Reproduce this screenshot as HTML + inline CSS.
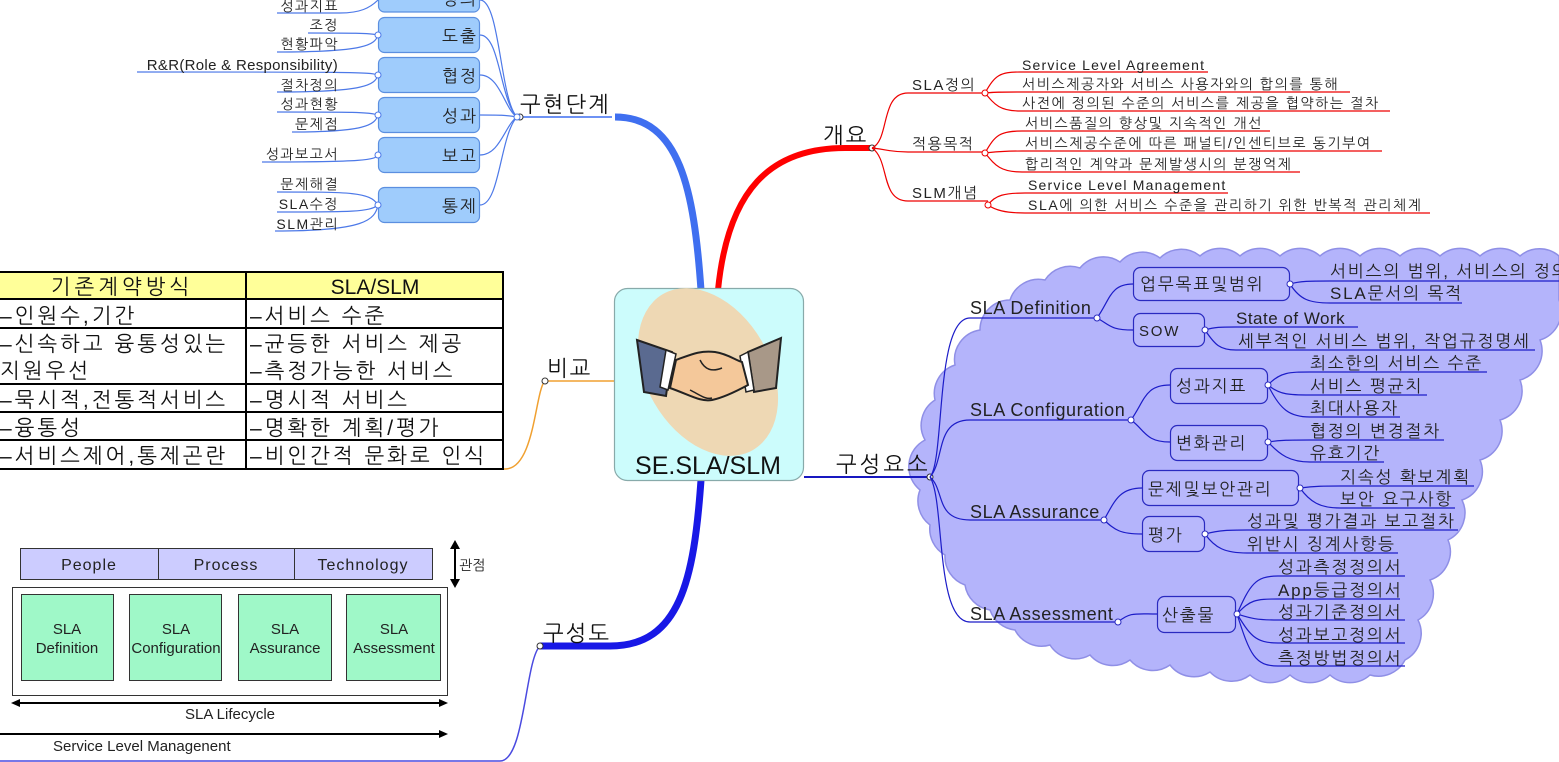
<!DOCTYPE html>
<html><head><meta charset="utf-8"><style>
html,body{margin:0;padding:0;background:#fff;width:1559px;height:762px;overflow:hidden}
svg{display:block}
text{font-family:"Liberation Sans","NanumGothic","Noto Sans CJK KR",sans-serif}
.k{font-family:"NanumGothic","Noto Sans CJK KR",sans-serif}
</style></head><body>
<svg width="1559" height="762" viewBox="0 0 1559 762" xmlns="http://www.w3.org/2000/svg">
<!-- cloud -->
<path fill="#b4b4fb" stroke="#8f8fe6" stroke-width="1.5" d="M925 440 A30 30 0 0 1 935 400 A30 30 0 0 1 955 365 A30 30 0 0 1 980 330 A30 30 0 0 1 1010 300 A30 30 0 0 1 1045 280 A30 30 0 0 1 1080 268 A30 30 0 0 1 1120 262 A30 30 0 0 1 1160 258 A30 30 0 0 1 1200 256 A30 30 0 0 1 1240 256 A30 30 0 0 1 1280 256 A30 30 0 0 1 1320 256 A30 30 0 0 1 1360 256 A30 30 0 0 1 1400 256 A30 30 0 0 1 1440 256 A30 30 0 0 1 1480 256 A30 30 0 0 1 1520 256 A30 30 0 0 1 1559 256 L1559 300 A30 30 0 0 1 1540 340 A30 30 0 0 1 1520 380 A30 30 0 0 1 1500 420 A30 30 0 0 1 1480 460 A30 30 0 0 1 1462 500 A30 30 0 0 1 1448 540 A30 30 0 0 1 1430 580 A30 30 0 0 1 1418 620 A30 30 0 0 1 1405 660 A30 30 0 0 1 1370 675 A30 30 0 0 1 1330 675 A30 30 0 0 1 1290 675 A30 30 0 0 1 1250 675 A30 30 0 0 1 1210 672 A30 30 0 0 1 1170 665 A30 30 0 0 1 1130 660 A30 30 0 0 1 1090 655 A30 30 0 0 1 1050 645 A30 30 0 0 1 1015 630 A30 30 0 0 1 990 610 A30 30 0 0 1 965 585 A30 30 0 0 1 945 555 A30 30 0 0 1 930 525 A30 30 0 0 1 920 490 A30 30 0 0 1 925 440 Z"/>

<!-- main branches -->
<path d="M701 290 C694 190 680 117 615 117" stroke="#3f6ff0" stroke-width="7" fill="none"/>
<path d="M520 117 H612" stroke="#3f6ff0" stroke-width="1.5"/>
<path d="M718 290 C728 190 770 148 845 148 H872" stroke="#f00" stroke-width="6" fill="none"/>
<path d="M823 148 H872" stroke="#f00" stroke-width="1.5"/>
<path d="M701 480 C694 580 680 646 610 646 H540" stroke="#1818e6" stroke-width="7" fill="none"/>
<path d="M540 646 C525 660 525 761 500 761 H0" stroke="#4a4ae0" stroke-width="1.5" fill="none"/>
<path d="M614 381 H545 C535 390 535 469 505 469 H0" stroke="#f0a030" stroke-width="1.5" fill="none"/>
<path d="M804 477 H930" stroke="#1818c0" stroke-width="2"/>

<!-- center node -->
<rect x="614.5" y="288.5" width="189" height="192" rx="13" fill="#ccfcfc" stroke="#8aa" stroke-width="1.2"/>
<ellipse cx="708" cy="372" rx="62" ry="90" transform="rotate(-30 708 372)" fill="#eed8b4"/>
<polygon points="637,340 672,352 666,396 644,392" fill="#5a6a90" stroke="#222" stroke-width="2"/>
<polygon points="666,350 676,354 668,390 660,387" fill="#fff" stroke="#222" stroke-width="1.5"/>
<polygon points="781,338 748,352 754,392 776,388" fill="#a89888" stroke="#222" stroke-width="2"/>
<polygon points="748,352 740,356 746,392 754,390" fill="#fff" stroke="#222" stroke-width="1.5"/>
<path d="M676 360 C690 355 700 350 715 352 C728 354 735 360 742 362 L748 385 C735 392 722 398 712 400 C700 402 690 395 670 388 Z" fill="#f4c89a" stroke="#222" stroke-width="2"/>
<path d="M690 390 C700 395 706 400 712 398 M700 360 C705 370 712 372 722 368" stroke="#222" stroke-width="1.5" fill="none"/>
<text x="708" y="474" font-size="25" text-anchor="middle" fill="#111">SE.SLA/SLM</text>

<!-- main labels -->
<g class="k" font-size="22" fill="#111" letter-spacing="2">
<text x="520" y="112" class="k">구현단계</text>
<text x="823" y="143" class="k">개요</text>
<text x="547" y="376" class="k">비교</text>
<text x="543" y="641" class="k">구성도</text>
<text x="836" y="472" class="k" letter-spacing="3">구성요소</text>
</g>
<g fill="#fff" stroke="#333" stroke-width="1">
<circle cx="520" cy="117" r="3"/><circle cx="872" cy="148" r="3"/><circle cx="545" cy="381" r="3"/><circle cx="540" cy="646" r="3"/><circle cx="930" cy="477" r="3"/>
</g>

<!-- 구현단계 sub -->
<g stroke="#4d79e8" stroke-width="1.2" fill="none">
<path d="M517 117 C500 100 500 0 480 0"/>
<path d="M517 117 C500 100 500 35 480 35"/>
<path d="M517 117 C505 110 500 75 480 75"/>
<path d="M517 117 C505 115 500 115 480 115"/>
<path d="M517 117 C505 125 500 155 480 155"/>
<path d="M517 117 C500 135 500 205 480 205"/>
<path d="M378 0 C370 8 360 13 340 13 H277"/>
<path d="M378 35 C370 33 350 33 308 33"/><path d="M378 35 C375 45 365 52 277 52"/>
<path d="M378 75 C370 72 350 72 137 72"/><path d="M378 75 C375 85 365 92 277 92"/>
<path d="M378 115 C370 112 350 112 277 112"/><path d="M378 115 C375 125 365 132 292 132"/>
<path d="M378 155 C375 160 365 162 262 162"/>
<path d="M378 205 C370 192 350 192 277 192"/><path d="M378 205 C370 212 350 212 277 212"/><path d="M378 205 C375 220 365 231 275 231"/>
</g>
<g fill="#9fccfc" stroke="#5b8fe0" stroke-width="1.2">
<rect x="378.5" y="-20" width="101" height="32" rx="6"/>
<rect x="378.5" y="17.5" width="101" height="35" rx="6"/>
<rect x="378.5" y="57.5" width="101" height="35" rx="6"/>
<rect x="378.5" y="97.5" width="101" height="35" rx="6"/>
<rect x="378.5" y="137.5" width="101" height="35" rx="6"/>
<rect x="378.5" y="187.5" width="101" height="35" rx="6"/>
</g>
<g class="k" font-size="17" fill="#222" text-anchor="end" letter-spacing="2">
<text x="478" y="5">정의</text>
<text x="478" y="42">도출</text>
<text x="478" y="82">협정</text>
<text x="478" y="122">성과</text>
<text x="478" y="162">보고</text>
<text x="478" y="212">통제</text>
</g>
<g fill="#fff" stroke="#4d79e8"><circle cx="378" cy="35" r="3"/><circle cx="378" cy="75" r="3"/><circle cx="378" cy="115" r="3"/><circle cx="378" cy="155" r="3"/><circle cx="378" cy="205" r="3"/><circle cx="517" cy="117" r="3"/></g>
<g class="k" font-size="14" fill="#222" text-anchor="end" letter-spacing="1.5">
<text x="339" y="11">성과지표</text>
<text x="339" y="30">조정</text>
<text x="339" y="49">현황파악</text>
<text x="338" y="70" font-family="Liberation Sans" font-size="15" letter-spacing="0.3">R&amp;R(Role &amp; Responsibility)</text>
<text x="339" y="90">절차정의</text>
<text x="339" y="109">성과현황</text>
<text x="339" y="129">문제점</text>
<text x="339" y="159">성과보고서</text>
<text x="339" y="189">문제해결</text>
<text x="339" y="209">SLA수정</text>
<text x="339" y="229">SLM관리</text>
</g>

<!-- 개요 sub -->
<g stroke="#e00" stroke-width="1.2" fill="none">
<path d="M872 148 C890 140 880 93 908 93 H985"/>
<path d="M872 148 C890 150 890 152 908 152 H985"/>
<path d="M872 148 C890 160 880 201 908 201 H988"/>
<path d="M985 93 C995 75 1000 72 1020 72 H1208"/>
<path d="M985 93 C995 92 1000 92 1020 92 H1350"/>
<path d="M985 93 C995 105 1000 111 1020 111 H1390"/>
<path d="M985 153 C995 135 1000 131 1022 131 H1270"/>
<path d="M985 153 C995 152 1000 151 1022 151 H1382"/>
<path d="M985 153 C995 165 1000 172 1022 172 H1300"/>
<path d="M988 205 C995 195 1005 193 1025 193 H1228"/>
<path d="M988 205 C995 210 1005 213 1025 213 H1430"/>
</g>
<g fill="#fff" stroke="#e00"><circle cx="985" cy="93" r="3"/><circle cx="985" cy="153" r="3"/><circle cx="988" cy="205" r="3"/></g>
<g class="k" font-size="15" fill="#222" letter-spacing="1.5">
<text x="912" y="90">SLA정의</text>
<text x="912" y="149">적용목적</text>
<text x="912" y="198">SLM개념</text>
</g>
<g class="k" font-size="14" fill="#222" letter-spacing="1.6">
<text x="1022" y="70" letter-spacing="1.2">Service Level Agreement</text>
<text x="1022" y="89">서비스제공자와 서비스 사용자와의 합의를 통해</text>
<text x="1022" y="108">사전에 정의된 수준의 서비스를 제공을 협약하는 절차</text>
<text x="1025" y="128">서비스품질의 향상및 지속적인 개선</text>
<text x="1025" y="148">서비스제공수준에 따른 패널티/인센티브로 동기부여</text>
<text x="1025" y="169">합리적인 계약과 문제발생시의 분쟁억제</text>
<text x="1028" y="190" letter-spacing="1.2">Service Level Management</text>
<text x="1028" y="210">SLA에 의한 서비스 수준을 관리하기 위한 반복적 관리체계</text>
</g>

<!-- 구성요소 sub -->
<g stroke="#1c1cc8" stroke-width="1.2" fill="none">
<path d="M930 477 C945 460 935 318 970 318 H1097"/>
<path d="M930 477 C945 460 935 420 970 420 H1131"/>
<path d="M930 477 C945 490 935 520 970 520 H1104"/>
<path d="M930 477 C945 500 935 622 970 622 H1118"/>
<path d="M1097 318 C1110 300 1110 284 1133 284"/><path d="M1097 318 C1110 325 1110 330 1133 330"/>
<path d="M1131 420 C1145 400 1145 385 1170 385"/><path d="M1131 420 C1145 430 1145 442 1170 442"/>
<path d="M1104 520 C1115 500 1120 488 1142 488"/><path d="M1104 520 C1115 530 1120 534 1142 534"/>
<path d="M1118 622 C1130 612 1135 614 1157 614"/>
<path d="M1290 284 C1300 281 1310 281 1330 281 H1559"/><path d="M1290 284 C1300 300 1310 303 1330 303 H1462"/>
<path d="M1205 330 C1215 327 1220 327 1236 327 H1358"/><path d="M1205 330 C1215 345 1220 350 1236 350 H1535"/>
<path d="M1268 385 C1280 372 1290 372 1310 372 H1487"/><path d="M1268 385 C1280 395 1290 395 1310 395 H1427"/><path d="M1268 385 C1280 410 1290 417 1310 417 H1400"/>
<path d="M1268 442 C1280 440 1290 440 1310 440 H1444"/><path d="M1268 442 C1280 455 1290 462 1310 462 H1384"/>
<path d="M1300 488 C1315 486 1325 486 1340 486 H1474"/><path d="M1300 488 C1310 502 1320 508 1340 508 H1455"/>
<path d="M1205 534 C1220 530 1230 530 1247 530 H1458"/><path d="M1205 534 C1215 548 1225 553 1247 553 H1398"/>
<path d="M1237 614 C1250 585 1255 576 1278 576 H1405"/><path d="M1237 614 C1250 600 1255 599 1278 599 H1400"/><path d="M1237 614 C1250 618 1255 620 1278 620 H1405"/><path d="M1237 614 C1250 635 1255 643 1278 643 H1405"/><path d="M1237 614 C1250 655 1255 666 1278 666 H1405"/>
</g>
<g fill="#b8b8fc" stroke="#2a2ac0" stroke-width="1.2">
<rect x="1133.5" y="267.5" width="156" height="33" rx="7"/>
<rect x="1133.5" y="313.5" width="71" height="33" rx="7"/>
<rect x="1170.5" y="368.5" width="97" height="35" rx="7"/>
<rect x="1170.5" y="425.5" width="97" height="35" rx="7"/>
<rect x="1142.5" y="470.5" width="156" height="35" rx="7"/>
<rect x="1142.5" y="516.5" width="62" height="35" rx="7"/>
<rect x="1157.5" y="596.5" width="78" height="36" rx="7"/>
</g>
<g fill="#fff" stroke="#2a2ac0"><circle cx="1097" cy="318" r="3"/><circle cx="1131" cy="420" r="3"/><circle cx="1104" cy="520" r="3"/><circle cx="1118" cy="622" r="3"/><circle cx="1290" cy="284" r="3"/><circle cx="1205" cy="330" r="3"/><circle cx="1268" cy="385" r="3"/><circle cx="1268" cy="442" r="3"/><circle cx="1300" cy="488" r="3"/><circle cx="1205" cy="534" r="3"/><circle cx="1237" cy="614" r="3"/></g>
<g class="k" font-size="17" fill="#222" letter-spacing="1.8">
<text x="970" y="314" font-family="Liberation Sans" font-size="18" letter-spacing="0.6">SLA Definition</text>
<text x="970" y="416" font-family="Liberation Sans" font-size="18" letter-spacing="0.6">SLA Configuration</text>
<text x="970" y="518" font-family="Liberation Sans" font-size="18" letter-spacing="0.6">SLA Assurance</text>
<text x="970" y="620" font-family="Liberation Sans" font-size="18" letter-spacing="0.6">SLA Assessment</text>
<text x="1140" y="290">업무목표및범위</text>
<text x="1139" y="336" font-size="15" font-family="Liberation Sans">SOW</text>
<text x="1176" y="392">성과지표</text>
<text x="1176" y="449">변화관리</text>
<text x="1148" y="495">문제및보안관리</text>
<text x="1148" y="541">평가</text>
<text x="1162" y="621">산출물</text>
<text x="1330" y="277">서비스의 범위, 서비스의 정의</text>
<text x="1330" y="299">SLA문서의 목적</text>
<text x="1236" y="324" font-family="Liberation Sans" letter-spacing="0.5">State of Work</text>
<text x="1238" y="347">세부적인 서비스 범위, 작업규정명세</text>
<text x="1310" y="369">최소한의 서비스 수준</text>
<text x="1310" y="392">서비스 평균치</text>
<text x="1310" y="414">최대사용자</text>
<text x="1310" y="437">협정의 변경절차</text>
<text x="1310" y="459">유효기간</text>
<text x="1340" y="483">지속성 확보계획</text>
<text x="1340" y="505">보안 요구사항</text>
<text x="1247" y="527">성과및 평가결과 보고절차</text>
<text x="1247" y="550">위반시 징계사항등</text>
<text x="1278" y="573">성과측정정의서</text>
<text x="1278" y="596">App등급정의서</text>
<text x="1278" y="618">성과기준정의서</text>
<text x="1278" y="641">성과보고정의서</text>
<text x="1278" y="664">측정방법정의서</text>
</g>

<!-- table -->
<rect x="-2" y="272" width="505" height="27" fill="#ffff99"/>
<g stroke="#000" stroke-width="2" fill="none">
<rect x="-2" y="272" width="505" height="197"/>
<path d="M246 272 V469 M-2 299 H503 M-2 328 H503 M-2 384 H503 M-2 412 H503 M-2 440 H503"/>
</g>
<g class="k" font-size="21" fill="#111" letter-spacing="3">
<text x="122" y="294" text-anchor="middle" letter-spacing="4">기존계약방식</text>
<text x="375" y="294" text-anchor="middle" font-family="Liberation Sans" letter-spacing="0">SLA/SLM</text>
<text x="0" y="323">–인원수,기간</text>
<text x="250" y="323">–서비스 수준</text>
<text x="0" y="351">–신속하고 융통성있는</text>
<text x="0" y="378">지원우선</text>
<text x="250" y="351">–균등한 서비스 제공</text>
<text x="250" y="378">–측정가능한 서비스</text>
<text x="0" y="407">–묵시적,전통적서비스</text>
<text x="250" y="407">–명시적 서비스</text>
<text x="0" y="435">–융통성</text>
<text x="250" y="435">–명확한 계획/평가</text>
<text x="0" y="463">–서비스제어,통제곤란</text>
<text x="250" y="463">–비인간적 문화로 인식</text>
</g>

<!-- 구성도 diagram -->
<rect x="20.5" y="548.5" width="412" height="31" fill="#ccccff" stroke="#333"/>
<path d="M158.5 548 V579 M294.5 548 V579" stroke="#333"/>
<g font-size="16" fill="#222" text-anchor="middle" letter-spacing="1">
<text x="89" y="570">People</text><text x="226" y="570">Process</text><text x="363" y="570">Technology</text>
</g>
<rect x="12.5" y="587.5" width="435" height="108" fill="#fff" stroke="#333"/>
<g fill="#9ff8c8" stroke="#333">
<rect x="21.5" y="594.5" width="92" height="86"/><rect x="129.5" y="594.5" width="92" height="86"/><rect x="238.5" y="594.5" width="93" height="86"/><rect x="346.5" y="594.5" width="94" height="86"/>
</g>
<g font-size="15" fill="#222" text-anchor="middle">
<text x="67" y="634">SLA</text><text x="67" y="653">Definition</text>
<text x="176" y="634">SLA</text><text x="176" y="653">Configuration</text>
<text x="285" y="634">SLA</text><text x="285" y="653">Assurance</text>
<text x="394" y="634">SLA</text><text x="394" y="653">Assessment</text>
</g>
<path d="M455 546 V582" stroke="#000" stroke-width="2"/>
<polygon points="455,540 450,549 460,549" fill="#000"/><polygon points="455,588 450,579 460,579" fill="#000"/>
<text x="459" y="570" class="k" font-size="14" fill="#222">관점</text>
<path d="M18 703 H441" stroke="#000" stroke-width="2"/>
<polygon points="11,703 20,699 20,707" fill="#000"/><polygon points="448,703 439,699 439,707" fill="#000"/>
<text x="230" y="719" font-size="15" fill="#222" text-anchor="middle">SLA Lifecycle</text>
<path d="M0 734 H441" stroke="#000" stroke-width="2"/>
<polygon points="448,734 439,730 439,738" fill="#000"/>
<text x="53" y="751" font-size="15" fill="#222">Service Level Managenent</text>
</svg>
</body></html>
